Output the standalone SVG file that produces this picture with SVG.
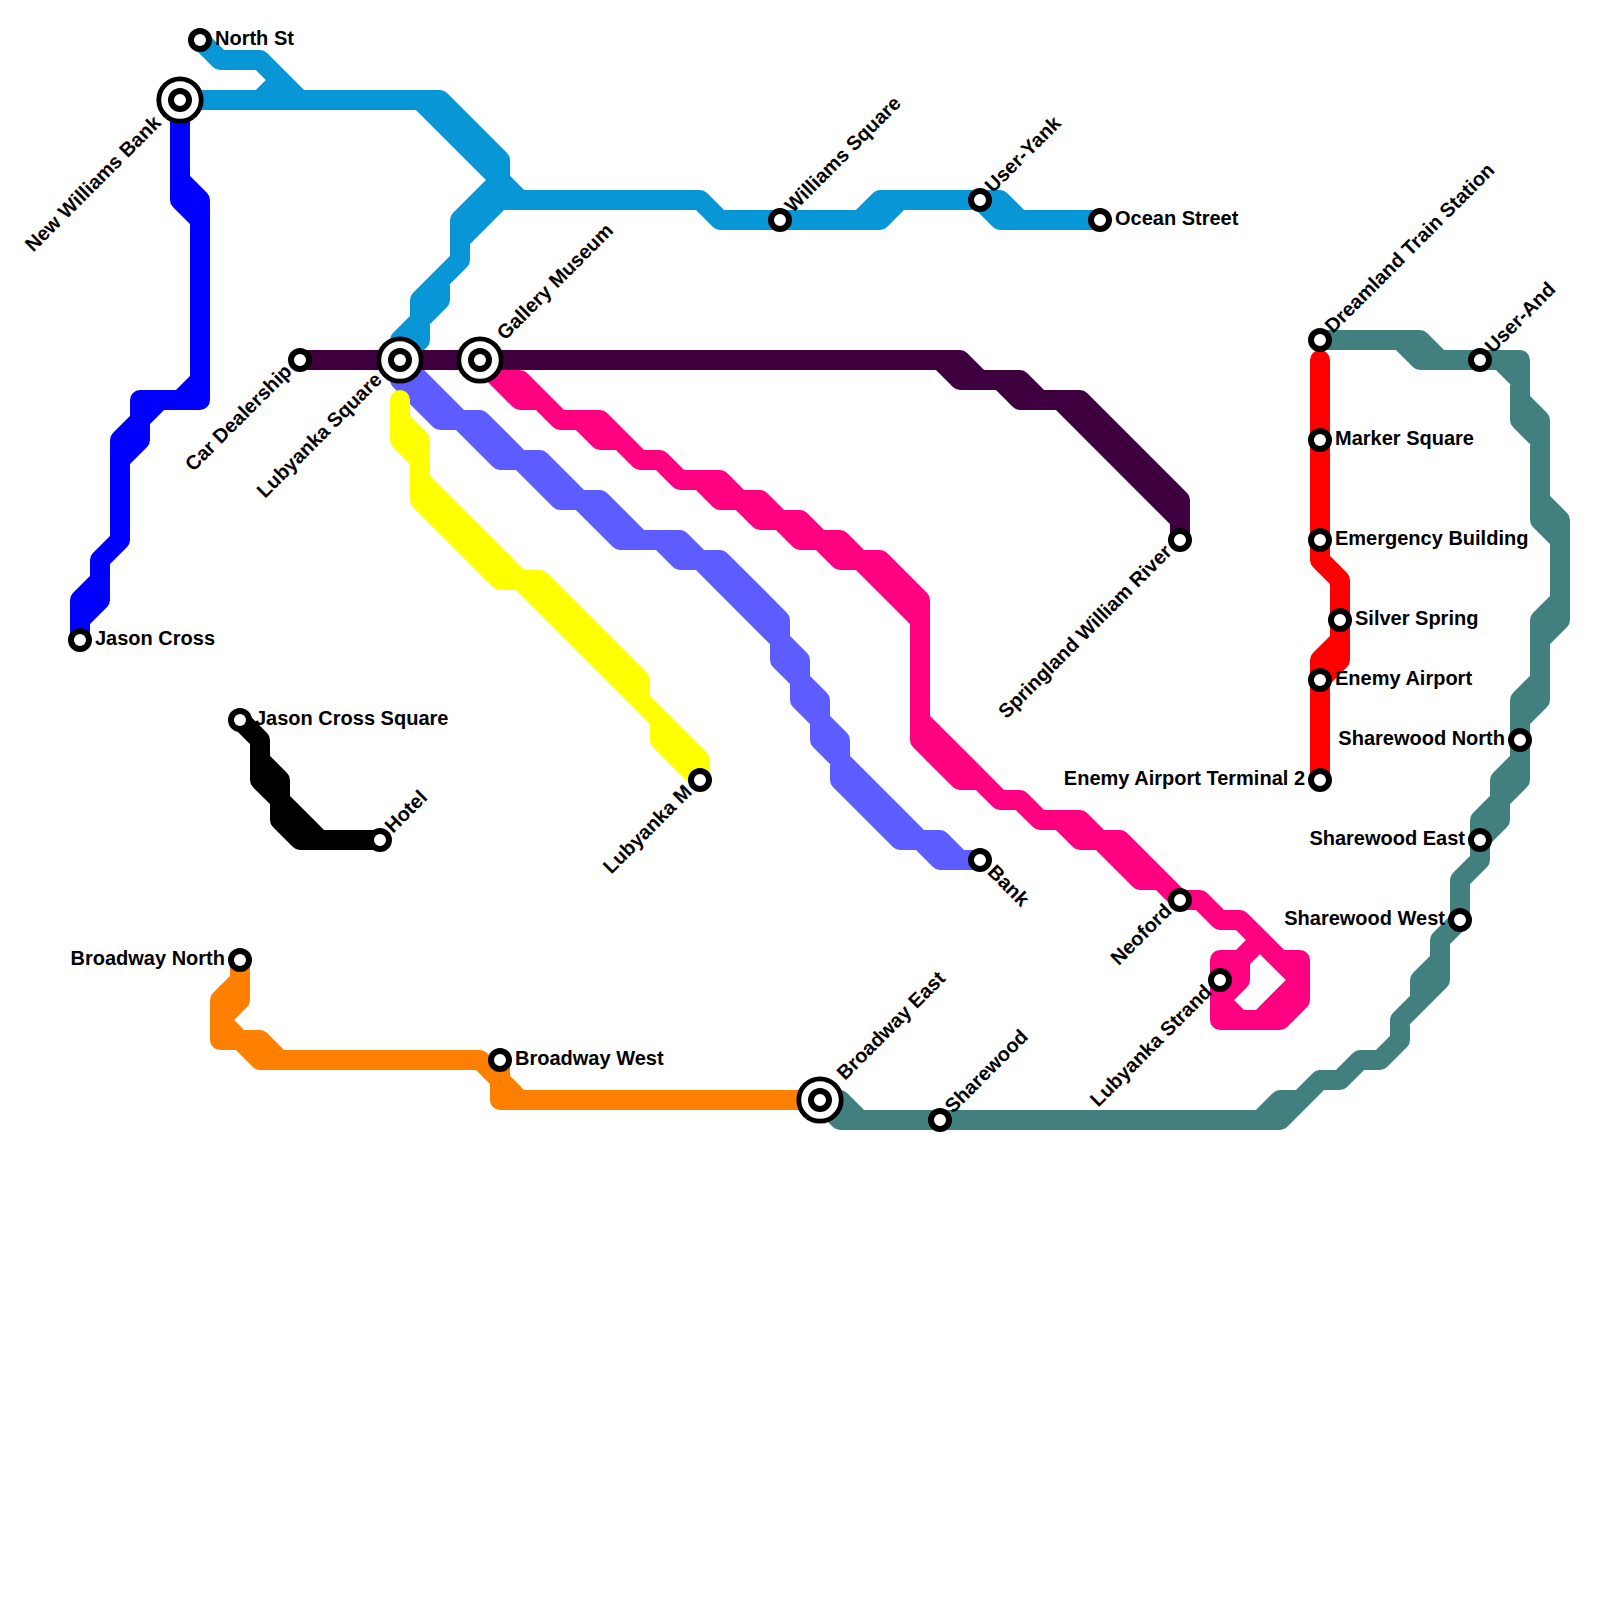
<svg xmlns="http://www.w3.org/2000/svg" width="1600" height="1600" viewBox="0 0 1600 1600">
<style>
.l{fill:none;stroke-width:20;stroke-linecap:round;stroke-linejoin:round}
.st{fill:#fff;stroke:#000;stroke-width:6}
.big{fill:#fff;stroke:#000;stroke-width:4.8}
text{font-family:"Liberation Sans",Arial,sans-serif;font-weight:700;font-size:20px;fill:#000}
.e{text-anchor:end}
</style>
<defs>
<g id="s"><circle class="st" r="9"/></g>
<g id="b"><circle class="big" r="21.2"/><circle class="st" r="9"/></g>
</defs>
<rect width="1600" height="1600" fill="#fff"/>
<g id="connectors">
<path id="line-lightblue" class="l" stroke="#0896d7" d="M200 40L220 60H260L300 100M260 100L280 80M180 100H440L500 160V180L520 200H700L720 220H860L880 200H1000L1020 220H1100M420 100L500 180M860 220H880L900 200M980 200L1000 220H1020M500 180L460 220V240L500 200H520M460 240V260L440 280V300L420 320V340L400 360M460 260L420 300V320L400 340V360"/>
<path id="line-pink" class="l" stroke="#ff0080" d="M480 360L500 380H520L560 420H600L640 460H660L680 480H720L740 500H760L780 520H800L820 540H840L860 560H880L920 600V720L1000 800H1020L1040 820H1080L1100 840H1120L1180 900H1200L1220 920H1240L1300 980M480 360L520 400H540L560 420H580L600 440H620L640 460M660 460L680 480H700L720 500H740L760 520H780L800 540H820L840 560H860L920 620M920 720V740L960 780H980L1000 800M1020 800L1040 820H1060L1080 840H1100L1140 880H1160L1180 900M1260 940L1240 960V980L1220 1000L1240 1020M1220 960H1240M1280 960H1300V1000L1280 1020H1220V960M1300 980L1260 1020"/>
<path id="line-periwinkle" class="l" stroke="#5c5cff" d="M400 360L460 420H480L520 460H540L580 500H600L640 540H680L700 560H720L780 620V640L800 660V680L820 700V720L840 740V760L920 840H940L960 860H980M400 360V380L440 420H460L500 460H520L560 500H580L620 540H660L680 560H700L780 640V660L800 680V700L820 720V740L840 760V780L900 840H920L940 860H980"/>
<path id="line-purple" class="l" stroke="#3f003f" d="M300 360H960L980 380H1020L1040 400H1080L1180 500V540M940 360L960 380H1000L1020 400H1060L1180 520"/>
<path id="line-yellow" class="l" stroke="#ff0" d="M400 400V420L420 440V480L520 580H540L640 680V700L700 760V780M400 420V440L420 460V500L500 580H520L660 720V740L700 780"/>
<path id="line-blue" class="l" stroke="#00f" d="M180 100V180L200 200V400H140V440L120 460V540L100 560V600L80 620V640M180 180V200L200 220M200 380L180 400M160 400L120 440V460M100 580L80 600V620"/>
<path id="line-black" class="l" stroke="#000" d="M240 720L260 740V760L280 780V800L320 840H380M260 760V780L280 800V820L300 840H320"/>
<path id="line-orange" class="l" stroke="#ff8000" d="M240 960V1000L220 1020V1040H240L260 1060H480L500 1080V1100H820M240 980L220 1000V1020L240 1040H260L280 1060M500 1060V1080L520 1100"/>
<path id="line-red" class="l" stroke="#f00" d="M1320 360V560L1340 580V660L1320 680V780M1340 640L1320 660V680"/>
<path id="line-teal" class="l" stroke="#427f7f" d="M820 1100H840L860 1120H1260L1280 1100H1300L1320 1080H1340L1360 1060H1380L1400 1040V1020L1420 1000V980L1440 960V940L1460 920V880L1480 860V820L1500 800V780L1520 760V700L1540 680V620L1560 600V540L1540 520V440L1520 420V380L1500 360H1420L1400 340H1320M820 1100L840 1120H1280L1320 1080M1400 1020L1440 980V960M1480 860V840L1500 820V800L1520 780V760M1520 720L1540 700V680M1540 640L1560 620V600M1560 540V520L1540 500V420L1520 400V380M1520 360H1440L1420 340H1400M1520 360V380M1520 700V720"/>
</g>
<g id="stations">
<g id="n-north-st"><use href="#s" x="200" y="40"/><text x="215" y="45">North St</text></g>
<g id="n-new-williams-bank"><use href="#b" x="180" y="100"/><text class="e" transform="translate(162 124) rotate(-45)">New Williams Bank</text></g>
<g id="n-jason-cross"><use href="#s" x="80" y="640"/><text x="95" y="645">Jason Cross</text></g>
<g id="n-car-dealership"><use href="#s" x="300" y="360"/><text class="e" transform="translate(293 372.5) rotate(-45)">Car Dealership</text></g>
<g id="n-lubyanka-square"><use href="#b" x="400" y="360"/><text class="e" transform="translate(383 381) rotate(-45)">Lubyanka Square</text></g>
<g id="n-gallery-museum"><use href="#b" x="480" y="360"/><text transform="translate(505 341) rotate(-45)">Gallery Museum</text></g>
<g id="n-lubyanka-m"><use href="#s" x="700" y="780"/><text class="e" transform="translate(693 793) rotate(-45)">Lubyanka M</text></g>
<g id="n-williams-square"><use href="#s" x="780" y="220"/><text transform="translate(793 213.5) rotate(-45)">Williams Square</text></g>
<g id="n-user-yank"><use href="#s" x="980" y="200"/><text transform="translate(993 193.5) rotate(-45)">User-Yank</text></g>
<g id="n-ocean-street"><use href="#s" x="1100" y="220"/><text x="1115" y="225">Ocean Street</text></g>
<g id="n-springland"><use href="#s" x="1180" y="540"/><text class="e" transform="translate(1173 553) rotate(-45)">Springland William River</text></g>
<g id="n-bank"><use href="#s" x="980" y="860"/><text transform="translate(986.5 873) rotate(45)">Bank</text></g>
<g id="n-jason-cross-square"><use href="#s" x="240" y="720"/><text x="255" y="725">Jason Cross Square</text></g>
<g id="n-hotel"><use href="#s" x="380" y="840"/><text transform="translate(393 834) rotate(-45)">Hotel</text></g>
<g id="n-broadway-north"><use href="#s" x="240" y="960"/><text class="e" x="225" y="965">Broadway North</text></g>
<g id="n-broadway-west"><use href="#s" x="500" y="1060"/><text x="515" y="1065">Broadway West</text></g>
<g id="n-broadway-east"><use href="#b" x="820" y="1100"/><text transform="translate(845 1081) rotate(-45)">Broadway East</text></g>
<g id="n-sharewood"><use href="#s" x="940" y="1120"/><text transform="translate(953 1114) rotate(-45)">Sharewood</text></g>
<g id="n-neoford"><use href="#s" x="1180" y="900"/><text class="e" transform="translate(1173 912) rotate(-45)">Neoford</text></g>
<g id="n-lubyanka-strand"><use href="#s" x="1220" y="980"/><text class="e" transform="translate(1213 993) rotate(-45)">Lubyanka Strand</text></g>
<g id="n-dreamland"><use href="#s" x="1320" y="340"/><text transform="translate(1333 334) rotate(-45)">Dreamland Train Station</text></g>
<g id="n-user-and"><use href="#s" x="1480" y="360"/><text transform="translate(1493 354) rotate(-45)">User-And</text></g>
<g id="n-marker-square"><use href="#s" x="1320" y="440"/><text x="1335" y="445">Marker Square</text></g>
<g id="n-emergency-building"><use href="#s" x="1320" y="540"/><text x="1335" y="545">Emergency Building</text></g>
<g id="n-silver-spring"><use href="#s" x="1340" y="620"/><text x="1355" y="625">Silver Spring</text></g>
<g id="n-enemy-airport"><use href="#s" x="1320" y="680"/><text x="1335" y="685">Enemy Airport</text></g>
<g id="n-enemy-airport-t2"><use href="#s" x="1320" y="780"/><text class="e" x="1305" y="785">Enemy Airport Terminal 2</text></g>
<g id="n-sharewood-north"><use href="#s" x="1520" y="740"/><text class="e" x="1505" y="745">Sharewood North</text></g>
<g id="n-sharewood-east"><use href="#s" x="1480" y="840"/><text class="e" x="1465" y="845">Sharewood East</text></g>
<g id="n-sharewood-west"><use href="#s" x="1460" y="920"/><text class="e" x="1445" y="925">Sharewood West</text></g>
</g>
</svg>
